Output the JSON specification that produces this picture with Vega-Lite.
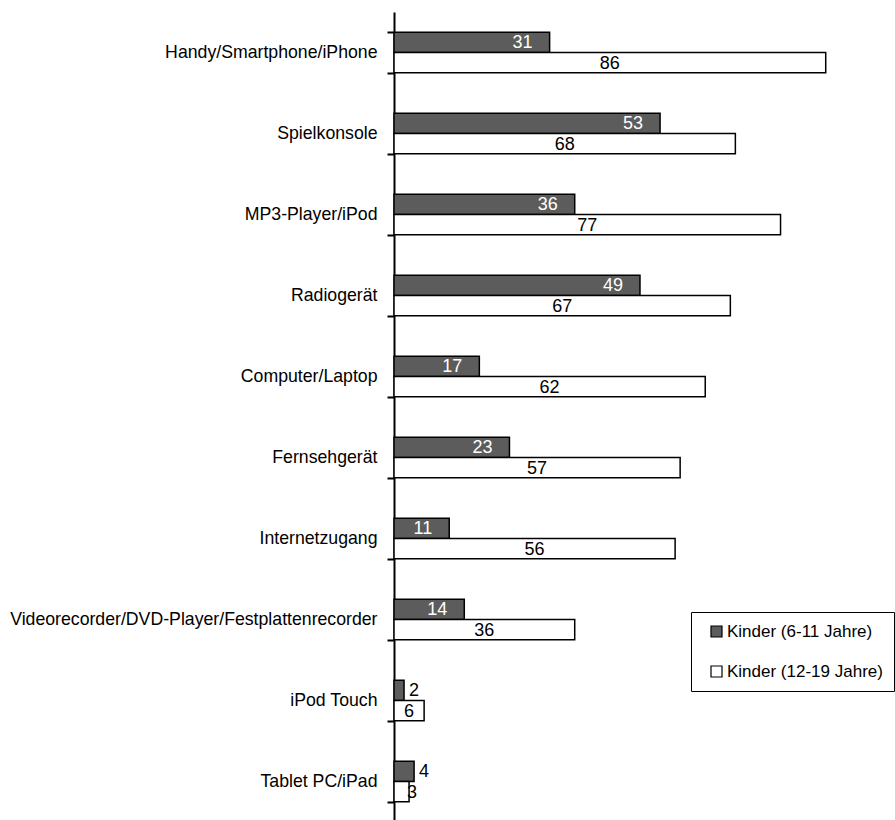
{
  "$schema": "https://vega.github.io/schema/vega-lite/v6.json",
  "width": 502,
  "height": 810,
  "autosize": {"type": "none"},
  "padding": {"left": 394, "top": 12, "right": 0, "bottom": 0},
  "background": "white",
  "config": {"view": {"stroke": null}, "font": "Liberation Sans"},
  "data": {
    "values": [
      {"cat": "Handy/Smartphone/iPhone", "group": "Kinder (6-11 Jahre)", "value": 31},
      {"cat": "Handy/Smartphone/iPhone", "group": "Kinder (12-19 Jahre)", "value": 86},
      {"cat": "Spielkonsole", "group": "Kinder (6-11 Jahre)", "value": 53},
      {"cat": "Spielkonsole", "group": "Kinder (12-19 Jahre)", "value": 68},
      {"cat": "MP3-Player/iPod", "group": "Kinder (6-11 Jahre)", "value": 36},
      {"cat": "MP3-Player/iPod", "group": "Kinder (12-19 Jahre)", "value": 77},
      {"cat": "Radiogerät", "group": "Kinder (6-11 Jahre)", "value": 49},
      {"cat": "Radiogerät", "group": "Kinder (12-19 Jahre)", "value": 67},
      {"cat": "Computer/Laptop", "group": "Kinder (6-11 Jahre)", "value": 17},
      {"cat": "Computer/Laptop", "group": "Kinder (12-19 Jahre)", "value": 62},
      {"cat": "Fernsehgerät", "group": "Kinder (6-11 Jahre)", "value": 23},
      {"cat": "Fernsehgerät", "group": "Kinder (12-19 Jahre)", "value": 57},
      {"cat": "Internetzugang", "group": "Kinder (6-11 Jahre)", "value": 11},
      {"cat": "Internetzugang", "group": "Kinder (12-19 Jahre)", "value": 56},
      {"cat": "Videorecorder/DVD-Player/Festplattenrecorder", "group": "Kinder (6-11 Jahre)", "value": 14},
      {"cat": "Videorecorder/DVD-Player/Festplattenrecorder", "group": "Kinder (12-19 Jahre)", "value": 36},
      {"cat": "iPod Touch", "group": "Kinder (6-11 Jahre)", "value": 2},
      {"cat": "iPod Touch", "group": "Kinder (12-19 Jahre)", "value": 6},
      {"cat": "Tablet PC/iPad", "group": "Kinder (6-11 Jahre)", "value": 4},
      {"cat": "Tablet PC/iPad", "group": "Kinder (12-19 Jahre)", "value": 3}
    ]
  },
  "encoding": {
    "y": {
      "field": "cat",
      "type": "nominal",
      "sort": ["Handy/Smartphone/iPhone", "Spielkonsole", "MP3-Player/iPod", "Radiogerät", "Computer/Laptop", "Fernsehgerät", "Internetzugang", "Videorecorder/DVD-Player/Festplattenrecorder", "iPod Touch", "Tablet PC/iPad"],
      "scale": {"paddingInner": 0.5, "paddingOuter": 0.25},
      "axis": {
        "title": null,
        "domainColor": "black",
        "domainWidth": 2,
        "tickColor": "black",
        "tickWidth": 2,
        "tickSize": 7,
        "tickBand": "extent",
        "labelColor": "black",
        "labelFontSize": 17.7,
        "labelPadding": 10,
        "labelLimit": 400
      }
    },
    "yOffset": {
      "field": "group",
      "type": "nominal",
      "sort": ["Kinder (6-11 Jahre)", "Kinder (12-19 Jahre)"]
    }
  },
  "layer": [
    {
      "mark": {"type": "bar", "stroke": "black", "strokeWidth": 1.5},
      "encoding": {
        "x": {"field": "value", "type": "quantitative", "scale": {"domain": [0, 100]}, "axis": null},
        "fill": {
          "field": "group",
          "type": "nominal",
          "sort": ["Kinder (6-11 Jahre)", "Kinder (12-19 Jahre)"],
          "scale": {"domain": ["Kinder (6-11 Jahre)", "Kinder (12-19 Jahre)"], "range": ["#5c5c5c", "#ffffff"]},
          "legend": {
            "title": null,
            "orient": "none",
            "legendX": 297,
            "legendY": 600,
            "strokeColor": "black",
            "fillColor": "white",
            "padding": 11,
            "symbolType": "square",
            "symbolSize": 121,
            "symbolOffset": 6,
            "symbolStrokeColor": "black",
            "symbolStrokeWidth": 1.2,
            "labelFontSize": 17,
            "labelColor": "black",
            "labelOffset": 2,
            "rowPadding": 22,
            "labelLimit": 300
          }
        }
      }
    },
    {
      "transform": [{"filter": "datum.group == 'Kinder (6-11 Jahre)' && datum.value >= 5"}],
      "mark": {"type": "text", "align": "right", "baseline": "middle", "dx": -17, "dy": 1, "fontSize": 18, "color": "white"},
      "encoding": {
        "x": {"field": "value", "type": "quantitative"},
        "text": {"field": "value", "type": "quantitative"}
      }
    },
    {
      "transform": [{"filter": "datum.group == 'Kinder (6-11 Jahre)' && datum.value < 5"}],
      "mark": {"type": "text", "align": "left", "baseline": "middle", "dx": 5, "dy": 1, "fontSize": 18, "color": "black"},
      "encoding": {
        "x": {"field": "value", "type": "quantitative"},
        "text": {"field": "value", "type": "quantitative"}
      }
    },
    {
      "transform": [
        {"filter": "datum.group == 'Kinder (12-19 Jahre)' && datum.value >= 5"},
        {"calculate": "datum.value / 2", "as": "mid"}
      ],
      "mark": {"type": "text", "align": "center", "baseline": "middle", "dy": 1, "fontSize": 18, "color": "black"},
      "encoding": {
        "x": {"field": "mid", "type": "quantitative"},
        "text": {"field": "value", "type": "quantitative"}
      }
    },
    {
      "transform": [{"filter": "datum.group == 'Kinder (12-19 Jahre)' && datum.value < 5"}],
      "mark": {"type": "text", "align": "left", "baseline": "middle", "dx": -2, "dy": 1, "fontSize": 18, "color": "black"},
      "encoding": {
        "x": {"field": "value", "type": "quantitative"},
        "text": {"field": "value", "type": "quantitative"}
      }
    }
  ]
}
